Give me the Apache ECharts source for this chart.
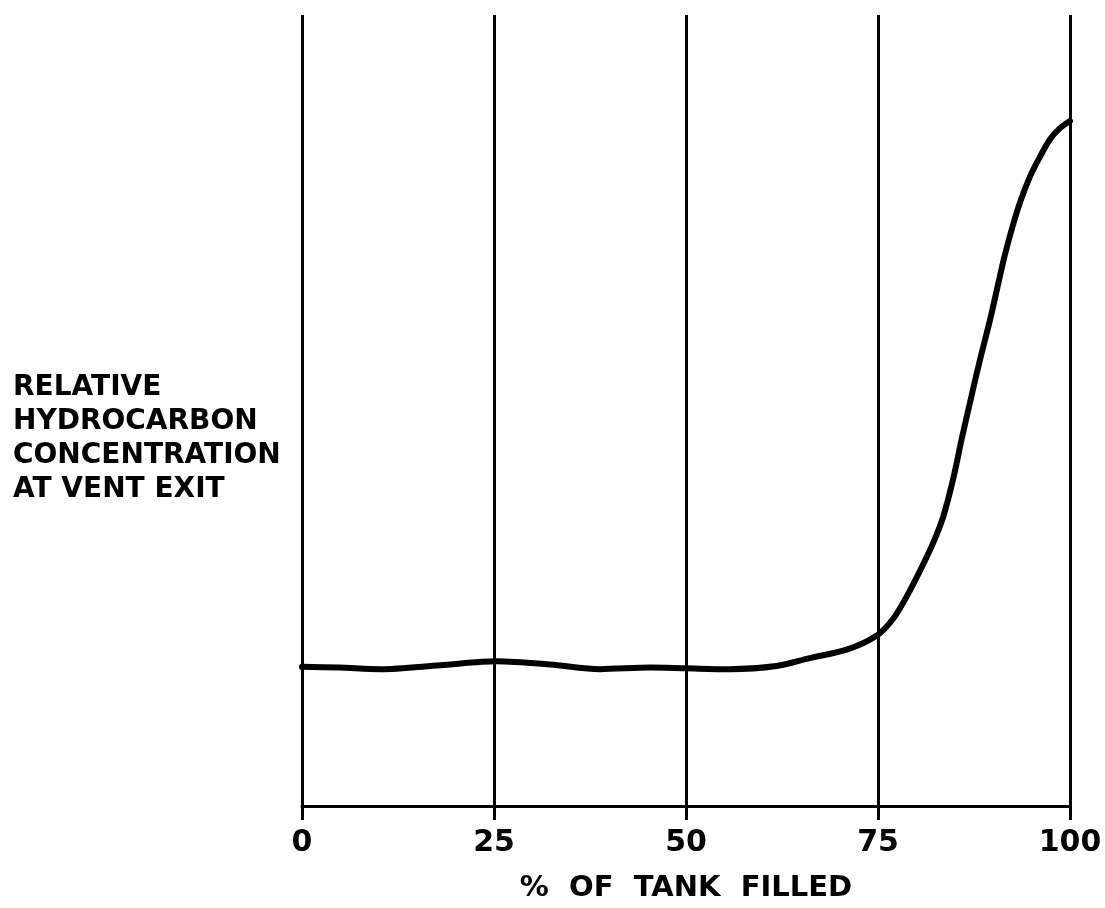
<!DOCTYPE html>
<html>
<head>
<meta charset="utf-8">
<title>Relative hydrocarbon concentration at vent exit</title>
<script src="https://cdn.jsdelivr.net/npm/echarts@6/dist/echarts.min.js"></script>
<style>
  html, body { margin: 0; padding: 0; background: #ffffff; }
  #chart { width: 1105px; height: 908px; }
</style>
</head>
<body>
<div id="chart"></div>
<script>
// Percent of tank filled (x) and relative hydrocarbon concentration (y, arbitrary units)
const fillPercent = [0, 4.9, 10.2, 18.0, 25.4, 32.3, 38.8, 45.3, 50.1, 55.7, 61.8, 66.1, 71.0, 74.9,
  77.0, 78.8, 80.5, 82.2, 83.5, 84.8, 85.9, 87.0, 88.3, 89.6, 90.6, 91.5, 92.5, 93.6, 94.8, 96.1, 97.4, 98.7, 100];
const concentration = [17.6, 17.5, 17.3, 17.8, 18.3, 17.9, 17.3, 17.5, 17.4, 17.3, 17.7, 18.7, 19.8, 21.6,
  23.7, 26.6, 29.8, 33.3, 36.6, 41.4, 46.4, 51.1, 56.5, 61.5, 65.8, 69.6, 73.2, 76.6, 79.6, 82.1, 84.3, 85.7, 86.6];
const xTicks = [0, 25, 50, 75, 100];
const yAxisTitle = ['RELATIVE', 'HYDROCARBON', 'CONCENTRATION', 'AT VENT EXIT'];
const xAxisTitle = '%  OF  TANK  FILLED';

const FONT = 'DejaVu Sans';
const chart = echarts.init(document.getElementById('chart'), null, { renderer: 'canvas' });

chart.setOption({
  backgroundColor: '#ffffff',
  animation: false,
  title: {
    text: yAxisTitle.join('\n'),
    left: 8,
    top: 366,
    textStyle: { fontFamily: FONT, fontWeight: 'bold', fontSize: 28, lineHeight: 34, color: '#000' }
  },
  grid: { left: 302, right: 35, top: 15, bottom: 100 },
  xAxis: {
    type: 'value',
    min: xTicks[0],
    max: xTicks[xTicks.length - 1],
    interval: 25,
    name: xAxisTitle,
    nameLocation: 'middle',
    nameGap: 68,
    nameTextStyle: { fontFamily: FONT, fontWeight: 'bold', fontSize: 29, color: '#000', verticalAlign: 'top' },
    axisLine: { show: true, lineStyle: { color: '#000', width: 3 } },
    axisTick: { show: true, length: 14, lineStyle: { color: '#000', width: 3 } },
    axisLabel: { margin: 22, fontFamily: FONT, fontWeight: 'bold', fontSize: 30, color: '#000',
      customValues: xTicks },
    splitLine: { show: true, showMinLine: true, showMaxLine: true, lineStyle: { color: '#000', width: 3, type: 'solid' } }
  },
  yAxis: {
    type: 'value',
    min: 0,
    max: 100,
    show: false,
    splitLine: { show: false }
  },
  series: [{
    type: 'line',
    data: fillPercent.map((x, i) => [x, concentration[i]]),
    smooth: 0.3,
    showSymbol: false,
    lineStyle: { color: '#000', width: 6, cap: 'round', join: 'round' },
    z: 5
  }]
});
</script>
</body>
</html>
